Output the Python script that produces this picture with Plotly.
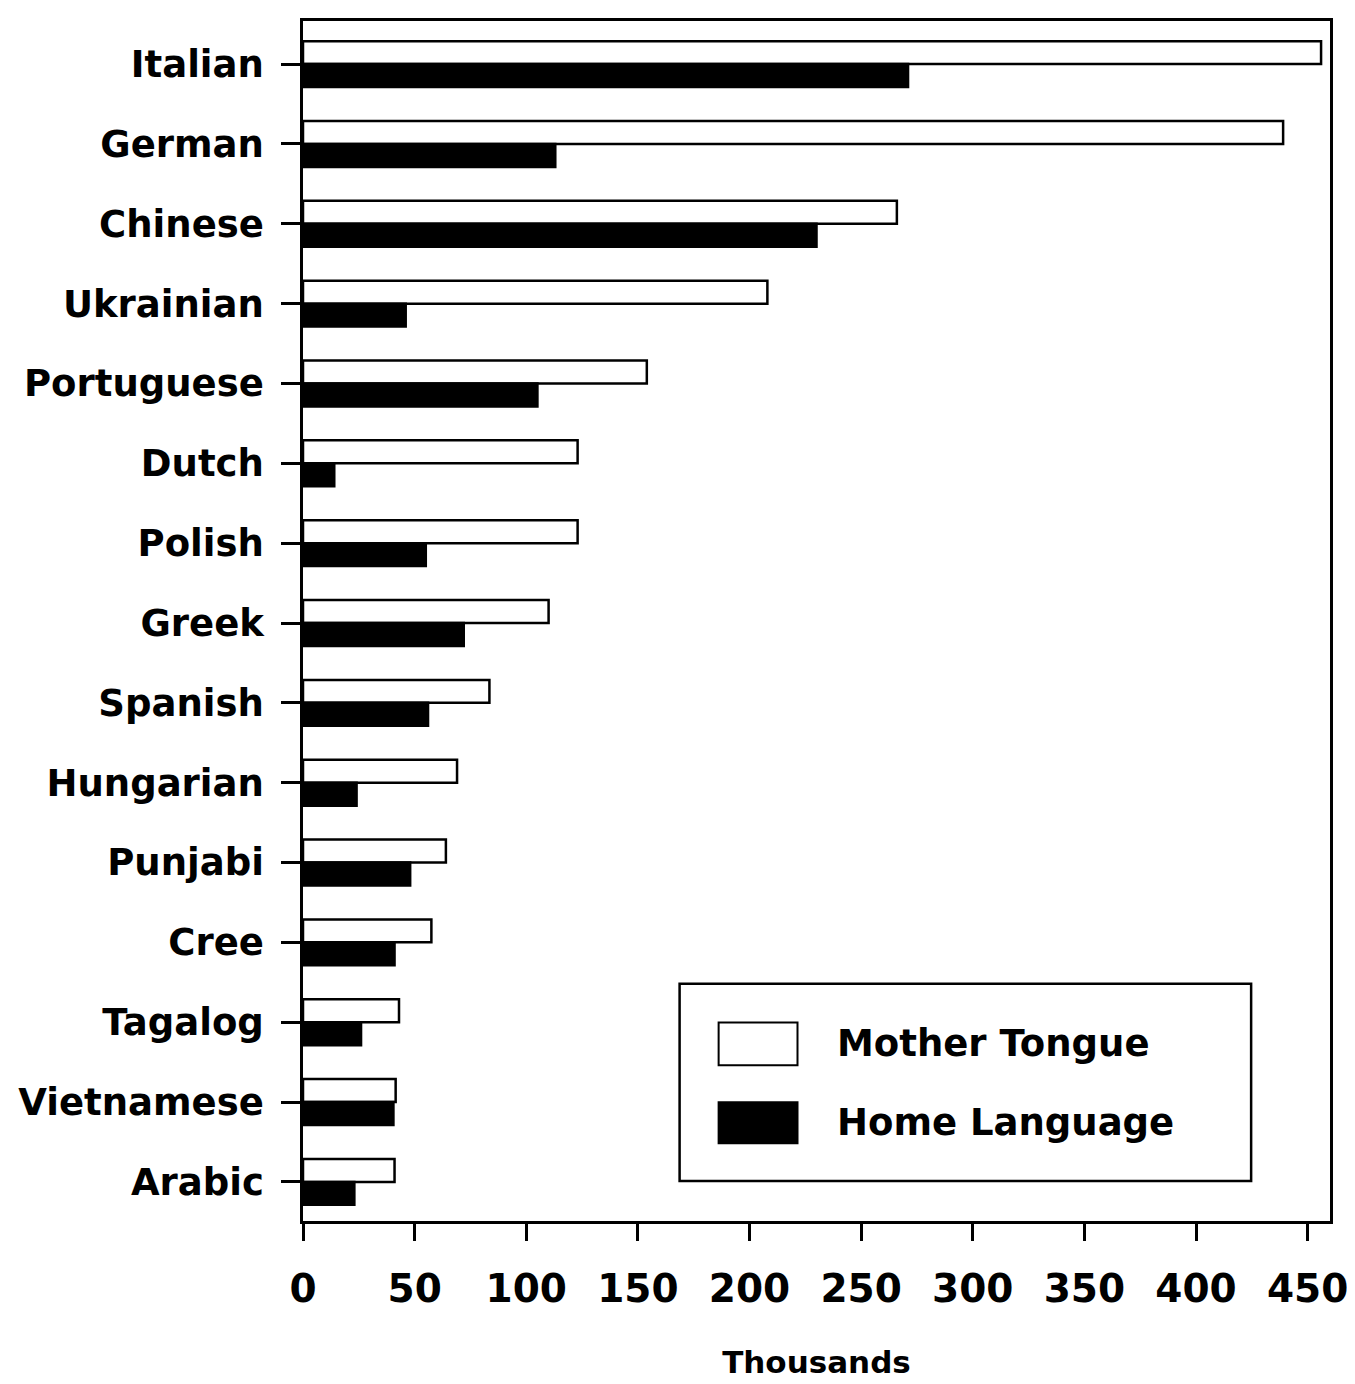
import plotly.graph_objects as go

languages = ["Italian", "German", "Chinese", "Ukrainian", "Portuguese", "Dutch", "Polish",
             "Greek", "Spanish", "Hungarian", "Punjabi", "Cree", "Tagalog", "Vietnamese", "Arabic"]
mother_tongue = [456, 439, 266, 208, 154, 123, 123, 110, 83.5, 69, 64, 57.5, 43, 41.5, 41]
home_language = [271, 113, 230, 46, 105, 14, 55, 72, 56, 24, 48, 41, 26, 40.5, 23]
x_ticks = [0, 50, 100, 150, 200, 250, 300, 350, 400, 450]
series_names = ["Mother Tongue", "Home Language"]

FONT = "DejaVu Sans"

fig = go.Figure()
fig.add_trace(go.Bar(
    y=languages, x=mother_tongue, orientation="h", name=series_names[0],
    marker=dict(color="white", line=dict(color="black", width=2.5)),
    showlegend=False,
))
fig.add_trace(go.Bar(
    y=languages, x=home_language, orientation="h", name=series_names[1],
    marker=dict(color="black", line=dict(color="black", width=2.5)),
    showlegend=False,
))

# manual legend (large swatches as in the original)
fig.add_shape(type="rect", xref="paper", yref="paper", x0=0.3667, x1=0.9232, y0=0.0333, y1=0.1978,
              line=dict(color="black", width=2.5), fillcolor="white", layer="above")
swatches = [(0.1654, 0.1297, "white"), (0.0989, 0.0648, "black")]
for (y1, y0, col), name in zip(swatches, series_names):
    fig.add_shape(type="rect", xref="paper", yref="paper", x0=0.4047, x1=0.4815, y0=y0, y1=y1,
                  line=dict(color="black", width=2), fillcolor=col, layer="above")
    fig.add_annotation(xref="paper", yref="paper", x=0.5185, y=(y0 + y1) / 2, text=name,
                       showarrow=False, xanchor="left", yanchor="middle",
                       font=dict(family=FONT, size=37, color="black", weight="bold"))

# the page body adds an 8px margin; offsets below compensate for it
fig.update_layout(
    width=1355, height=1384,
    margin=dict(l=294, r=33, t=10, b=171),
    paper_bgcolor="white", plot_bgcolor="white",
    barmode="group", bargap=0.425, bargroupgap=0,
    font=dict(family=FONT, color="black"),
)
fig.update_yaxes(
    type="category", range=[14.49, -0.54],
    showline=True, linecolor="black", linewidth=2.5, mirror=True,
    ticks="outside", ticklen=19, tickwidth=2.5, tickcolor="black",
    ticklabelstandoff=10, showgrid=False, zeroline=False,
    tickfont=dict(family=FONT, size=37, color="black", weight="bold"),
)
fig.update_xaxes(
    range=[0, 460], tickvals=x_ticks, ticktext=[str(v) for v in x_ticks],
    showline=True, linecolor="black", linewidth=2.5, mirror=True,
    ticks="outside", ticklen=17, tickwidth=2.5, tickcolor="black",
    ticklabelstandoff=14, ticklabeloverflow="allow", showgrid=False, zeroline=False,
    tickfont=dict(family=FONT, size=39, color="black", weight="bold"),
    title=dict(text="Thousands", standoff=42,
               font=dict(family=FONT, size=31, color="black", weight="bold")),
)

fig.write_html("out.html", config={"displayModeBar": False})
